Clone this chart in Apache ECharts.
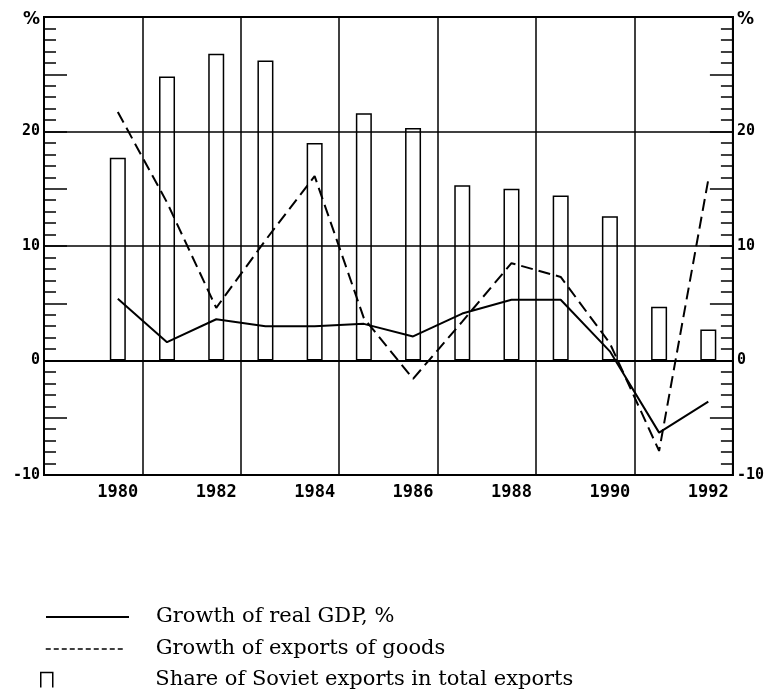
<!DOCTYPE html>
<html>
<head>
<meta charset="utf-8">
<title>GDP, exports and Soviet share</title>
<script src="https://cdn.jsdelivr.net/npm/echarts@6/dist/echarts.min.js"></script>
<style>
  html, body { margin: 0; padding: 0; background: #fff; }
  #chart { width: 767px; height: 694px; }
</style>
</head>
<body>
<div id="chart"></div>
<script>
// categories: 1979 is an empty slot so the frame starts half a year before 1980
var years = ['1979', '1980', '1981', '1982', '1983', '1984', '1985', '1986', '1987', '1988', '1989', '1990', '1991', '1992']
var gdpGrowth = [null, 5.4, 1.6, 3.6, 3.0, 3.0, 3.2, 2.1, 4.1, 5.3, 5.3, 0.8, -6.3, -3.6]
var exportGrowth = [null, 21.7, 13.8, 4.6, 10.5, 16.1, 3.7, -1.6, 3.4, 8.5, 7.3, 1.5, -7.9, 15.8]
var sovietShare = [null, 17.7, 24.8, 26.8, 26.2, 19.0, 21.6, 20.3, 15.3, 15.0, 14.4, 12.6, 4.7, 2.7]
var yTicks = { min: -10, max: 30, step: 5 }
var seriesNames = ['Growth of real GDP, %', 'Growth of exports of goods', 'Share of Soviet exports in total exports']

var chart = echarts.init(document.getElementById('chart'))

var tickFont = {
  color: '#000',
  fontFamily: 'DejaVu Sans Mono',
  fontWeight: 'bold',
  fontSize: 15
}

function yLabel (v) {
  if (v === yTicks.max) return '{pct|%}'
  return v % 10 === 0 ? String(v) : ''
}

// left and right scales are the same, ticks pointing inward
function valueAxis (pos) {
  return {
    type: 'value',
    position: pos,
    min: yTicks.min,
    max: yTicks.max,
    interval: yTicks.step,
    axisLine: { show: true, lineStyle: { color: '#000', width: 2 } },
    axisTick: { show: true, inside: true, length: 23, lineStyle: { color: '#000', width: 1.5 } },
    minorTick: { show: true, splitNumber: 5, length: 12, lineStyle: { color: '#000', width: 1.5 } },
    axisLabel: Object.assign({
      margin: 4,
      formatter: yLabel,
      rich: { pct: { fontFamily: 'DejaVu Sans', fontWeight: 'bold', fontSize: 17, color: '#000', padding: [6, 0, 0, 0] } }
    }, tickFont),
    splitLine: { show: false }
  }
}

var legendFont = {
  color: '#000',
  fontFamily: 'DejaVu Serif',
  fontSize: 21,
  lineHeight: 24
}
// hides the round marker ECharts puts on line legend icons
var noMarker = { color: 'rgba(0,0,0,0)', borderWidth: 0 }

var option = {
  animation: false,
  backgroundColor: '#fff',
  grid: {
    left: 44,
    right: 34,
    top: 17,
    bottom: 219,
    show: true,
    borderColor: '#000',
    borderWidth: 2
  },
  legend: [
    {
      data: [{ name: seriesNames[0], itemStyle: noMarker }],
      left: 45,
      top: 605,
      padding: 0,
      itemWidth: 83,
      itemHeight: 14,
      selectedMode: false,
      textStyle: Object.assign({ padding: [0, 0, 0, 22] }, legendFont)
    },
    {
      data: [{ name: seriesNames[1], itemStyle: noMarker, lineStyle: { type: [5, 3], width: 1.5 } }],
      left: 45,
      top: 637,
      padding: 0,
      itemWidth: 77,
      itemHeight: 14,
      selectedMode: false,
      textStyle: Object.assign({ padding: [0, 0, 0, 28] }, legendFont)
    },
    {
      data: [{
        name: seriesNames[2],
        icon: 'path://M0,15L0,0L12,0L12,15',
        itemStyle: { color: 'rgba(0,0,0,0)', borderColor: '#000', borderWidth: 1.5 }
      }],
      left: 40,
      top: 668,
      padding: 0,
      itemWidth: 13,
      itemHeight: 15,
      selectedMode: false,
      textStyle: Object.assign({ padding: [0, 0, 0, 97] }, legendFont)
    }
  ],
  xAxis: {
    type: 'category',
    data: years,
    boundaryGap: true,
    axisLine: { show: true, lineStyle: { color: '#000', width: 2 } },
    axisTick: { show: false },
    axisLabel: Object.assign({}, tickFont, {
      margin: 9,
      fontSize: 17,
      interval: function (i) { return i % 2 === 1 }
    }),
    // vertical rules every two years, between the bars
    splitLine: {
      show: true,
      interval: function (i) { return i % 2 === 0 && i > 0 },
      lineStyle: { color: '#000', width: 1.5 }
    }
  },
  yAxis: [
    valueAxis('left'),
    valueAxis('right'),
    {
      // only the horizontal rules at 0, 10, 20
      type: 'value',
      position: 'left',
      min: yTicks.min,
      max: yTicks.max,
      interval: 10,
      axisLine: { show: false },
      axisTick: { show: false },
      axisLabel: { show: false },
      splitLine: { show: true, lineStyle: { color: '#000', width: 1.5 } }
    }
  ],
  series: [
    {
      name: seriesNames[2],
      type: 'bar',
      data: sovietShare,
      barWidth: 16,
      z: 1,
      itemStyle: { color: 'rgba(0,0,0,0)', borderColor: '#000', borderWidth: 1.5 }
    },
    {
      name: seriesNames[0],
      type: 'line',
      data: gdpGrowth,
      symbol: 'none',
      z: 3,
      itemStyle: { color: '#000' },
      lineStyle: { color: '#000', width: 2, type: 'solid' }
    },
    {
      name: seriesNames[1],
      type: 'line',
      data: exportGrowth,
      symbol: 'none',
      z: 3,
      itemStyle: { color: '#000' },
      lineStyle: { color: '#000', width: 2, type: [12, 6] }
    }
  ]
}

chart.setOption(option)
</script>
</body>
</html>
